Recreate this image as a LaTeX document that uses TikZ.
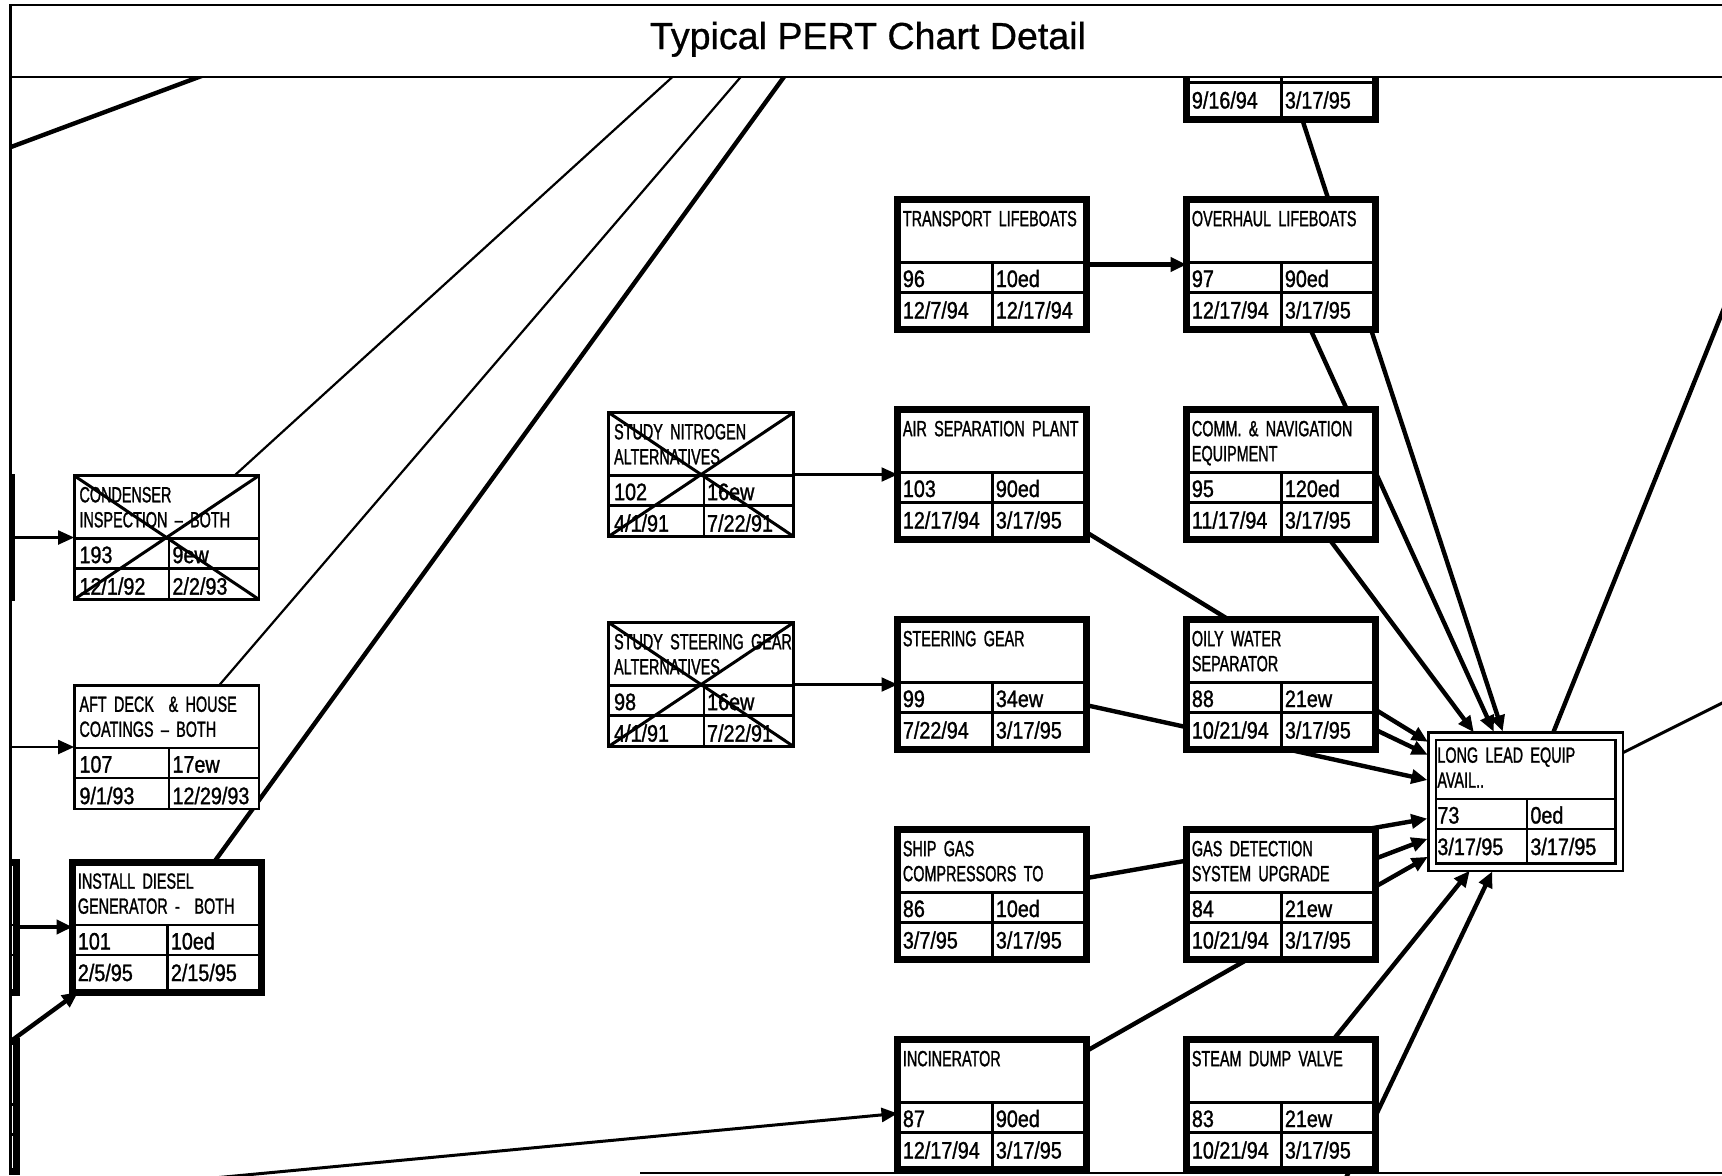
\documentclass[tikz,border=0pt]{standalone}
\usepackage{fontspec}
\usetikzlibrary{positioning, arrows.meta, backgrounds}
\newfontfamily\pertfont{Liberation Sans}[FakeStretch=0.654, FakeBold=1.2]
\newfontfamily\cellfont{Liberation Sans}[FakeStretch=0.83, FakeBold=1.2]
\newfontfamily\headfont{Liberation Sans}[FakeBold=0.8]

% rows and columns inside an activity box
\newcommand{\pertgrid}{%
  \draw[line width=1.2pt]
    ([yshift=-31.5pt]path picture bounding box.north west) -- ([yshift=-31.5pt]path picture bounding box.north east)
    ([yshift=-46.5pt]path picture bounding box.north west) -- ([yshift=-46.5pt]path picture bounding box.north east)
    ([shift={(47.5pt,-31.5pt)}]path picture bounding box.north west) -- ([xshift=47.5pt]path picture bounding box.south west);}
\newcommand{\pertcross}{%
  \draw[line width=1.5pt]
    (path picture bounding box.north west) -- (path picture bounding box.south east)
    (path picture bounding box.north east) -- (path picture bounding box.south west);}
% box: style, name, title, number, duration, start, finish
\newcommand{\pertnode}[7]{%
  \node[#1] (#2) {};
  \node[titletext] (#2-title) at ([shift={(2.5pt,-5.25pt)}]#2.north west) {#3};
  \node[celltext] (#2-id) at ([shift={(2.5pt,-43.75pt)}]#2.north west) {#4};
  \node[celltext] (#2-dur) at ([shift={(49pt,-43.75pt)}]#2.north west) {#5};
  \node[celltext] (#2-start) at ([shift={(2.5pt,-59.5pt)}]#2.north west) {#6};
  \node[celltext] (#2-end) at ([shift={(49pt,-59.5pt)}]#2.north west) {#7};}

\begin{document}
\begin{tikzpicture}[x=0.5pt, y=-0.5pt, node distance=40pt and 50pt]
  \tikzstyle{block} = [rectangle, draw, fill=white, line width=3.5pt,
      minimum width=94.5pt, minimum height=65pt, inner sep=0pt, outer sep=0pt,
      path picture={\pertgrid}]
  \tikzstyle{lightblock} = [block, line width=1.4pt, minimum width=92.4pt, minimum height=61.9pt]
  \tikzstyle{crossed} = [lightblock, path picture={\pertgrid\pertcross}]
  \tikzstyle{goalblock} = [block, double, line width=1.3pt, double distance=2.5pt,
      minimum width=93.5pt, minimum height=65.5pt]
  \tikzstyle{titletext} = [anchor=north west, inner sep=0pt, text height=7.9pt,
      text width=95pt, align=left, font=\pertfont\fontsize{11pt}{12.5pt}\selectfont]
  \tikzstyle{celltext} = [anchor=base west, inner sep=0pt,
      font=\cellfont\fontsize{11.9pt}{14pt}\selectfont]
  \tikzstyle{headtext} = [anchor=base, inner sep=0pt, font=\headfont\fontsize{18.8pt}{22pt}\selectfont]
  \tikzstyle{line} = [draw, line width=1.1pt, -{Triangle[length=8pt, width=7pt]}]
  \tikzstyle{medium} = [line, line width=1.5pt]
  \tikzstyle{heavy} = [line, line width=2.2pt]
  \tikzstyle{feed} = [heavy, shorten >=2.4pt]
  \tikzstyle{frameline} = [draw, line width=1.1pt]

  \useasboundingbox (0,0) rectangle (1722,1175);
  \begin{scope}
    \clip (10.5,5) rectangle (1722,1175);
      % Place nodes
      \pertnode{block, at={(992,264.5)}}{transport}{TRANSPORT LIFEBOATS}{96}{10ed}{12/7/94}{12/17/94}
      \pertnode{block, below=of transport}{airsep}{AIR SEPARATION PLANT}{103}{90ed}{12/17/94}{3/17/95}
      \pertnode{block, below=of airsep}{steering}{STEERING GEAR}{99}{34ew}{7/22/94}{3/17/95}
      \pertnode{block, below=of steering}{shipgas}{SHIP GAS\\COMPRESSORS TO}{86}{10ed}{3/7/95}{3/17/95}
      \pertnode{block, below=of shipgas}{incin}{INCINERATOR}{87}{90ed}{12/17/94}{3/17/95}
      \pertnode{block, right=of transport}{overhaul}{OVERHAUL LIFEBOATS}{97}{90ed}{12/17/94}{3/17/95}
      \pertnode{block, above=of overhaul}{upper}{}{}{}{9/16/94}{3/17/95}
      \pertnode{block, below=of overhaul}{comm}{COMM.~\& NAVIGATION\\EQUIPMENT}{95}{120ed}{11/17/94}{3/17/95}
      \pertnode{block, below=of comm}{oily}{OILY WATER\\SEPARATOR}{88}{21ew}{10/21/94}{3/17/95}
      \pertnode{block, below=of oily}{gasdet}{GAS DETECTION\\SYSTEM UPGRADE}{84}{21ew}{10/21/94}{3/17/95}
      \pertnode{block, below=of gasdet}{steam}{STEAM DUMP VALVE}{83}{21ew}{10/21/94}{3/17/95}
      \pertnode{goalblock, at={(1525.5,801.5)}}{longlead}{LONG LEAD EQUIP\\AVAIL..}{73}{0ed}{3/17/95}{3/17/95}
      \pertnode{crossed, left=52pt of airsep}{nitro}{STUDY NITROGEN\\ALTERNATIVES}{102}{16ew}{4/1/91}{7/22/91}
      \pertnode{crossed, left=52pt of steering}{studygear}{STUDY STEERING GEAR\\ALTERNATIVES}{98}{16ew}{4/1/91}{7/22/91}
      \pertnode{crossed, at={(166.5,537.5)}}{condenser}{CONDENSER\\INSPECTION \textendash{} BOTH}{193}{9ew}{12/1/92}{2/2/93}
      \pertnode{lightblock, at={(166.5,747)}}{aftdeck}{AFT DECK~~\& HOUSE\\COATINGS \textendash{} BOTH}{107}{17ew}{9/1/93}{12/29/93}
      \pertnode{block, at={(167,927)}}{diesel}{INSTALL DIESEL\\GENERATOR -~~BOTH}{101}{10ed}{2/5/95}{2/15/95}
      % boxes cut off by the left edge
      \node[lightblock] (prevcond) at (-78.75,537.5) {};
      \node[block] (prevdiesel) at (-78.5,927) {};
      \node[block] (prevlow) at (-78.5,1106.5) {};
      % ends beyond the frame
      \coordinate (aftfrom) at (-300,747);
      \coordinate (condnext) at (724,30);
      \coordinate (aftnext) at (781,30);
      \coordinate (dieselnext) at (818,30);
      \coordinate (cornerfrom) at (-40,166);
      \coordinate (cornernext) at (325,30);
      \coordinate (incinfrom) at (150,1184);
      \coordinate (steamfrom) at (1281,1314);
      \coordinate (nextA) at (1780,169);
      \coordinate (nextB) at (1780,674);
  \end{scope}

  %paths
  \begin{scope}[on background layer]
    \clip (10.5,5) rectangle (1722,1175);
      \path [line] (prevcond) -- (condenser);
      \path [line] (aftfrom) -- (aftdeck);
      \path [heavy] (prevdiesel) -- (diesel);
      \path [heavy] (prevlow) -- (diesel);
      \path [line] (condenser) -- (condnext);
      \path [line] (aftdeck) -- (aftnext);
      \path [heavy] (diesel) -- (dieselnext);
      \path [heavy] (cornerfrom) -- (cornernext);
      \path [medium] (incinfrom) -- (incin);
      \path [line] (nitro) -- (airsep);
      \path [line] (studygear) -- (steering);
      \path [heavy] (transport) -- (overhaul);
      \path [feed] (upper) -- (longlead);
      \path [feed] (overhaul) -- (longlead);
      \path [feed] (comm) -- (longlead);
      \path [feed] (airsep) -- (longlead);
      \path [feed] (oily) -- (longlead);
      \path [feed] (steering) -- (longlead);
      \path [feed] (shipgas) -- (longlead);
      \path [feed] (gasdet) -- (longlead);
      \path [feed] (incin) -- (longlead);
      \path [feed] (steam) -- (longlead);
      \path [feed] (steamfrom) -- (longlead);
      \path [heavy] (longlead) -- (nextA);
      \path [medium] (longlead) -- (nextB);
  \end{scope}

  % title band and frame
  \fill[white] (10.5,5) rectangle (1722,77);
  \node[headtext] (heading) at (868,49) {Typical PERT Chart Detail};
  \path [frameline] (1722,5) -- (10.5,5) -- (10.5,1175);
  \path [frameline] (10.5,77) -- (1722,77);
  \path [frameline] (640,1173) -- (1722,1173);
\end{tikzpicture}
\end{document}
